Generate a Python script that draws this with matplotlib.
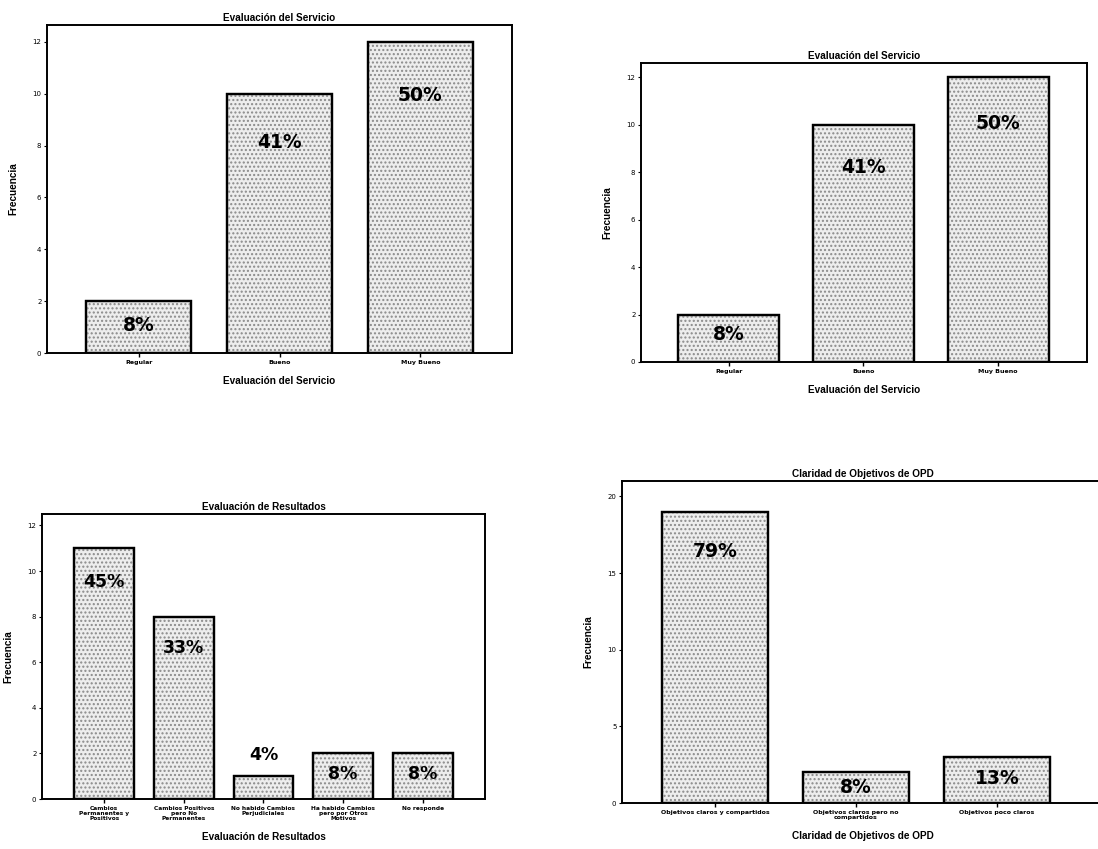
import matplotlib
matplotlib.use("Agg")
import matplotlib.pyplot as plt

# ---- data ----
servicio_cats = ["Regular", "Bueno", "Muy Bueno"]
servicio_vals = [2, 10, 12]
servicio_pcts = ["8%", "41%", "50%"]

resultados_cats = ["Cambios\nPermanentes y\nPositivos",
                   "Cambios Positivos\npero No\nPermanentes",
                   "No habido Cambios\nPerjudiciales",
                   "Ha habido Cambios\npero por Otros\nMotivos",
                   "No responde"]
resultados_vals = [11, 8, 1, 2, 2]
resultados_pcts = ["45%", "33%", "4%", "8%", "8%"]

claridad_cats = ["Objetivos claros y compartidos",
                 "Objetivos claros pero no\ncompartidos",
                 "Objetivos poco claros"]
claridad_vals = [19, 2, 3]
claridad_pcts = ["79%", "8%", "13%"]

# label vertical placement (text positions, in data units)
tl_label_y = [1.05, 8.13, 9.95]
tr_label_y = [1.14, 8.2, 10.06]
bl_label_y = [9.53, 6.62, 1.94, 1.1, 1.1]
br_label_y = [16.4, 0.98, 1.57]

W, H = 1098, 849
fig = plt.figure(figsize=(W / 100, H / 100), dpi=100)
fig.patch.set_facecolor("white")

TITLE_FONT = dict(family=["Liberation Sans", "DejaVu Sans"], weight="bold", size=7.2)


def px_axes(l, r, t, b):
    return fig.add_axes([l / W, 1 - b / H, (r - l) / W, (b - t) / H])


def draw(ax, cats, vals, pcts, label_y, title, xlabel, ylim, yticks,
         xlim, pct_size=13.5, tick_size=4.5):
    x = list(range(len(cats)))
    ax.bar(x, vals, width=0.75, color="#ededed", edgecolor="black",
           linewidth=1.6, zorder=2)
    ax.bar(x, vals, width=0.75, color="none", edgecolor="#8a8a8a",
           hatch="....", linewidth=0, zorder=3)
    ax.bar(x, vals, width=0.75, color="none", edgecolor="black",
           linewidth=1.6, zorder=4)
    for xi, yi, p in zip(x, label_y, pcts):
        ax.text(xi, yi, p, ha="center", va="center", zorder=5,
                family="DejaVu Sans", weight="bold", size=pct_size)
    ax.set_xlim(*xlim)
    ax.set_ylim(*ylim)
    ax.set_yticks(yticks)
    ax.set_xticks(x)
    ax.set_xticklabels(cats, fontsize=tick_size, fontweight="bold",
                       linespacing=1.0)
    ax.tick_params(axis="y", labelsize=5, length=2.5, width=0.8, pad=1.5)
    ax.tick_params(axis="x", length=3, width=1.0, pad=2)
    for s in ax.spines.values():
        s.set_linewidth(1.4)
        s.set_color("black")
    ax.set_title(title, pad=3, **TITLE_FONT)
    ax.set_xlabel(xlabel, labelpad=8, **TITLE_FONT)
    ax.set_ylabel("Frecuencia", labelpad=10, **TITLE_FONT)


ax1 = px_axes(47, 512, 25, 353)
draw(ax1, servicio_cats, servicio_vals, servicio_pcts, tl_label_y,
     "Evaluación del Servicio", "Evaluación del Servicio",
     (0, 12.65), [0, 2, 4, 6, 8, 10, 12], (-0.65, 2.65))

ax2 = px_axes(641, 1087, 63, 362)
draw(ax2, servicio_cats, servicio_vals, servicio_pcts, tr_label_y,
     "Evaluación del Servicio", "Evaluación del Servicio",
     (0, 12.6), [0, 2, 4, 6, 8, 10, 12], (-0.65, 2.66))

ax3 = px_axes(42, 485, 514, 799)
draw(ax3, resultados_cats, resultados_vals, resultados_pcts, bl_label_y,
     "Evaluación de Resultados", "Evaluación de Resultados",
     (0, 12.5), [0, 2, 4, 6, 8, 10, 12], (-0.78, 4.78), pct_size=12.5,
     tick_size=4.2)

ax4 = px_axes(622, 1104, 481, 803)
draw(ax4, claridad_cats, claridad_vals, claridad_pcts, br_label_y,
     "Claridad de Objetivos de OPD", "Claridad de Objetivos de OPD",
     (0, 21.0), [0, 5, 10, 15, 20], (-0.66, 2.76), pct_size=13.5)

fig.savefig("out.png", dpi=100, facecolor="white")
